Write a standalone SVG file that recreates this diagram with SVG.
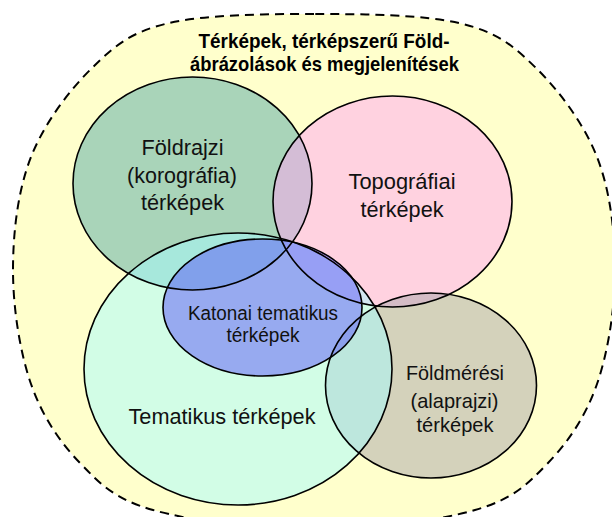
<svg xmlns="http://www.w3.org/2000/svg" width="612" height="517" viewBox="0 0 612 517">
  <style>
    .outer { fill: #ffffcc; stroke: #000; stroke-width: 2; stroke-dasharray: 9 6; }
    .set { fill-opacity: 0.5; stroke: none; }
    .outline { fill: none; stroke: #000; stroke-width: 1.6; }
    .lbl { font-family: "Liberation Sans", Arial, sans-serif; fill: #111; text-anchor: middle; }
    .title { font-family: "Liberation Sans", Arial, sans-serif; font-weight: bold; font-size: 21px; fill: #000; text-anchor: middle; }
  </style>
  <rect width="612" height="517" fill="#ffffff"/>
  <g id="outer-set">
    <path class="outer" d="M314,14 C265,14 204,14.5 167,23.5 C130,32.5 114.7,45.75 92,68 C69.3,90.25 44.2,123.3 31,157 C17.8,190.7 13,232.2 13,270 C13,307.8 19.8,351.8 31,384 C42.2,416.2 59.7,442 80,463 C100.3,484 114,498.8 153,510 C192,521.2 260.3,530 314,530 C367.7,530 436,521.2 475,510 C514,498.8 527.7,484 548,463 C568.3,442 585.8,416.2 597,384 C608.2,351.8 615,307.8 615,270 C615,232.2 610.2,190.7 597,157 C583.8,123.3 558.7,90.25 536,68 C513.3,45.75 498,32.5 461,23.5 C424,14.5 363,14 314,14 Z"/>
    <text class="title" x="324" y="47.5" textLength="251" lengthAdjust="spacingAndGlyphs">Térképek, térképszerű Föld-</text>
    <text class="title" x="324.5" y="71" textLength="269" lengthAdjust="spacingAndGlyphs">ábrázolások és megjelenítések</text>
  </g>
  <g id="foldrajzi">
    <ellipse class="set" fill="#53a9a6" cx="192.5" cy="183.5" rx="119.5" ry="106.5"/>
    <text class="lbl" font-size="22" x="182.5" y="155" textLength="82" lengthAdjust="spacingAndGlyphs">Földrajzi</text>
    <text class="lbl" font-size="22" x="182" y="183" textLength="110" lengthAdjust="spacingAndGlyphs">(korográfia)</text>
    <text class="lbl" font-size="22" x="182.5" y="210" textLength="83" lengthAdjust="spacingAndGlyphs">térképek</text>
  </g>
  <g id="topografiai">
    <ellipse class="set" fill="#ffa5f4" cx="392.5" cy="201.5" rx="119.5" ry="105.5"/>
    <text class="lbl" font-size="22" x="402" y="188.5" textLength="107" lengthAdjust="spacingAndGlyphs">Topográfiai</text>
    <text class="lbl" font-size="22" x="402" y="217" textLength="83" lengthAdjust="spacingAndGlyphs">térképek</text>
  </g>
  <g id="foldmeresi">
    <ellipse class="set" fill="#a9a5aa" cx="431" cy="385.5" rx="105.5" ry="92.5"/>
    <text class="lbl" font-size="21" x="455" y="379.5" textLength="98" lengthAdjust="spacingAndGlyphs">Földmérési</text>
    <text class="lbl" font-size="21" x="454.5" y="408" textLength="88" lengthAdjust="spacingAndGlyphs">(alaprajzi)</text>
    <text class="lbl" font-size="21" x="455" y="432" textLength="77" lengthAdjust="spacingAndGlyphs">térképek</text>
  </g>
  <g id="tematikus">
    <ellipse class="set" fill="#a5fbff" cx="238" cy="369" rx="154" ry="136"/>
    <text class="lbl" font-size="22" x="222" y="424" textLength="187" lengthAdjust="spacingAndGlyphs">Tematikus térképek</text>
  </g>
  <g id="katonai">
    <ellipse class="set" fill="#5c57fa" cx="262.5" cy="307.5" rx="99.5" ry="68.5"/>
    <text class="lbl" font-size="20" x="263" y="319.5" textLength="150" lengthAdjust="spacingAndGlyphs">Katonai tematikus</text>
    <text class="lbl" font-size="20" x="263" y="342" textLength="73" lengthAdjust="spacingAndGlyphs">térképek</text>
  </g>
  <g id="outlines">
    <ellipse class="outline" cx="192.5" cy="183.5" rx="119.5" ry="106.5"/>
    <ellipse class="outline" cx="392.5" cy="201.5" rx="119.5" ry="105.5"/>
    <ellipse class="outline" cx="431" cy="385.5" rx="105.5" ry="92.5"/>
    <ellipse class="outline" cx="238" cy="369" rx="154" ry="136"/>
    <ellipse class="outline" cx="262.5" cy="307.5" rx="99.5" ry="68.5"/>
  </g>
</svg>
